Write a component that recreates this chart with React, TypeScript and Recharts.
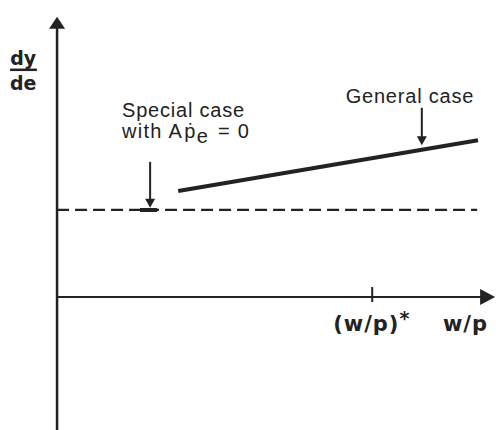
import { LineChart, Line, XAxis, YAxis, ReferenceLine, ReferenceDot } from 'recharts'

// curves on the diagram (x = w/p, y = dy/de)
const generalCase = [
  { x: 2.76, y: 1.9 },
  { x: 9.59, y: 2.81 },
]
const specialCase = [
  { x: 0, y: 1.56 },
  { x: 9.57, y: 1.56 },
]
const xDomain = [-1.3, 10]
const yDomain = [-2.38, 5.32]
const criticalWage = 7.18
const xLabel = 'w/p'

const ink = '#222'
const font = '"Liberation Sans", Arial, sans-serif'
const boldFont = '"DejaVu Sans", sans-serif'

const upArrow = ({ cx, cy }: any) => (
  <polygon points={`${cx},${cy} ${cx - 8},${cy + 12} ${cx + 8},${cy + 12}`} fill={ink} />
)
const rightArrow = ({ cx, cy }: any) => (
  <polygon points={`${cx},${cy} ${cx - 15},${cy - 8} ${cx - 15},${cy + 8}`} fill={ink} />
)
const downArrow = ({ cx, cy }: any) => (
  <polygon points={`${cx},${cy} ${cx - 5},${cy - 9} ${cx + 5},${cy - 9}`} fill={ink} />
)

const textAt = (content: any, anchor = 'start', size = 20, bold = false, spacing = 0.8) => ({ cx, cy }: any) => (
  <text
    x={cx}
    y={cy}
    textAnchor={anchor}
    fontSize={size}
    fontWeight={bold ? 'bold' : 'normal'}
    fontFamily={bold ? boldFont : font}
    letterSpacing={spacing}
    fill={ink}
  >
    {content}
  </text>
)

const App = () => {
  return (
    <div style={{ position: 'absolute', left: 0, top: 0, background: '#fff' }}>
      <LineChart width={496} height={430} margin={{ top: 0, right: 0, bottom: 0, left: 0 }}>
        <XAxis type="number" dataKey="x" domain={xDomain} hide allowDataOverflow />
        <YAxis type="number" dataKey="y" domain={yDomain} hide allowDataOverflow />

        {/* axes */}
        <ReferenceLine segment={[{ x: 0, y: 4.9 }, { x: 0, y: -2.38 }]} stroke={ink} strokeWidth={2.5} ifOverflow="visible" />
        <ReferenceLine segment={[{ x: 0, y: 0 }, { x: 9.7, y: 0 }]} stroke={ink} strokeWidth={2} ifOverflow="visible" />
        <ReferenceDot x={0} y={5.02} shape={upArrow} ifOverflow="visible" />
        <ReferenceDot x={9.98} y={0} shape={rightArrow} ifOverflow="visible" />

        {/* critical wage tick */}
        <ReferenceLine segment={[{ x: criticalWage, y: 0.18 }, { x: criticalWage, y: -0.09 }]} stroke={ink} strokeWidth={2} ifOverflow="visible" />
        <ReferenceDot
          x={6.29}
          y={-0.61}
          shape={textAt(
            <>
              <tspan>(w/p)</tspan>
              <tspan dy={-6} fontSize={19}>*</tspan>
            </>,
            'start', 21, true, 1
          )}
          ifOverflow="visible"
        />
        <ReferenceDot x={8.79} y={-0.61} shape={textAt(xLabel, 'start', 21, true, 1)} ifOverflow="visible" />

        {/* y label */}
        <ReferenceDot x={-0.77} y={4.16} shape={textAt('dy', 'middle', 19, true, 0)} ifOverflow="visible" />
        <ReferenceLine segment={[{ x: -1.07, y: 4.07 }, { x: -0.46, y: 4.07 }]} stroke={ink} strokeWidth={2.5} ifOverflow="visible" />
        <ReferenceDot x={-0.77} y={3.7} shape={textAt('de', 'middle', 19, true, 0)} ifOverflow="visible" />

        <Line data={specialCase} dataKey="y" stroke={ink} strokeWidth={2.2} strokeDasharray="12 6" dot={false} activeDot={false} isAnimationActive={false} />
        <Line data={generalCase} dataKey="y" stroke={ink} strokeWidth={4} dot={false} activeDot={false} isAnimationActive={false} />

        {/* annotations */}
        <ReferenceDot x={8.04} y={3.48} shape={textAt('General case', 'middle')} ifOverflow="visible" />
        <ReferenceLine segment={[{ x: 8.31, y: 3.39 }, { x: 8.31, y: 2.85 }]} stroke={ink} strokeWidth={2} ifOverflow="visible" />
        <ReferenceDot x={8.31} y={2.72} shape={downArrow} ifOverflow="visible" />

        <ReferenceDot x={1.48} y={3.23} shape={textAt('Special case')} ifOverflow="visible" />
        <ReferenceDot
          x={1.48}
          y={2.85}
          shape={textAt(
            <>
              <tspan>with A</tspan>
              <tspan dx={1}>ṗ</tspan>
              <tspan dy={5}>e</tspan>
              <tspan dy={-5} dx={2}> = 0</tspan>
            </>,
            'start', 20, false, 1.3
          )}
          ifOverflow="visible"
        />
        <ReferenceLine segment={[{ x: 2.12, y: 2.42 }, { x: 2.12, y: 1.75 }]} stroke={ink} strokeWidth={2} ifOverflow="visible" />
        <ReferenceDot x={2.12} y={1.6} shape={downArrow} ifOverflow="visible" />
        <ReferenceLine segment={[{ x: 1.89, y: 1.56 }, { x: 2.28, y: 1.56 }]} stroke={ink} strokeWidth={4} ifOverflow="visible" />
      </LineChart>
    </div>
  )
}

export default App
